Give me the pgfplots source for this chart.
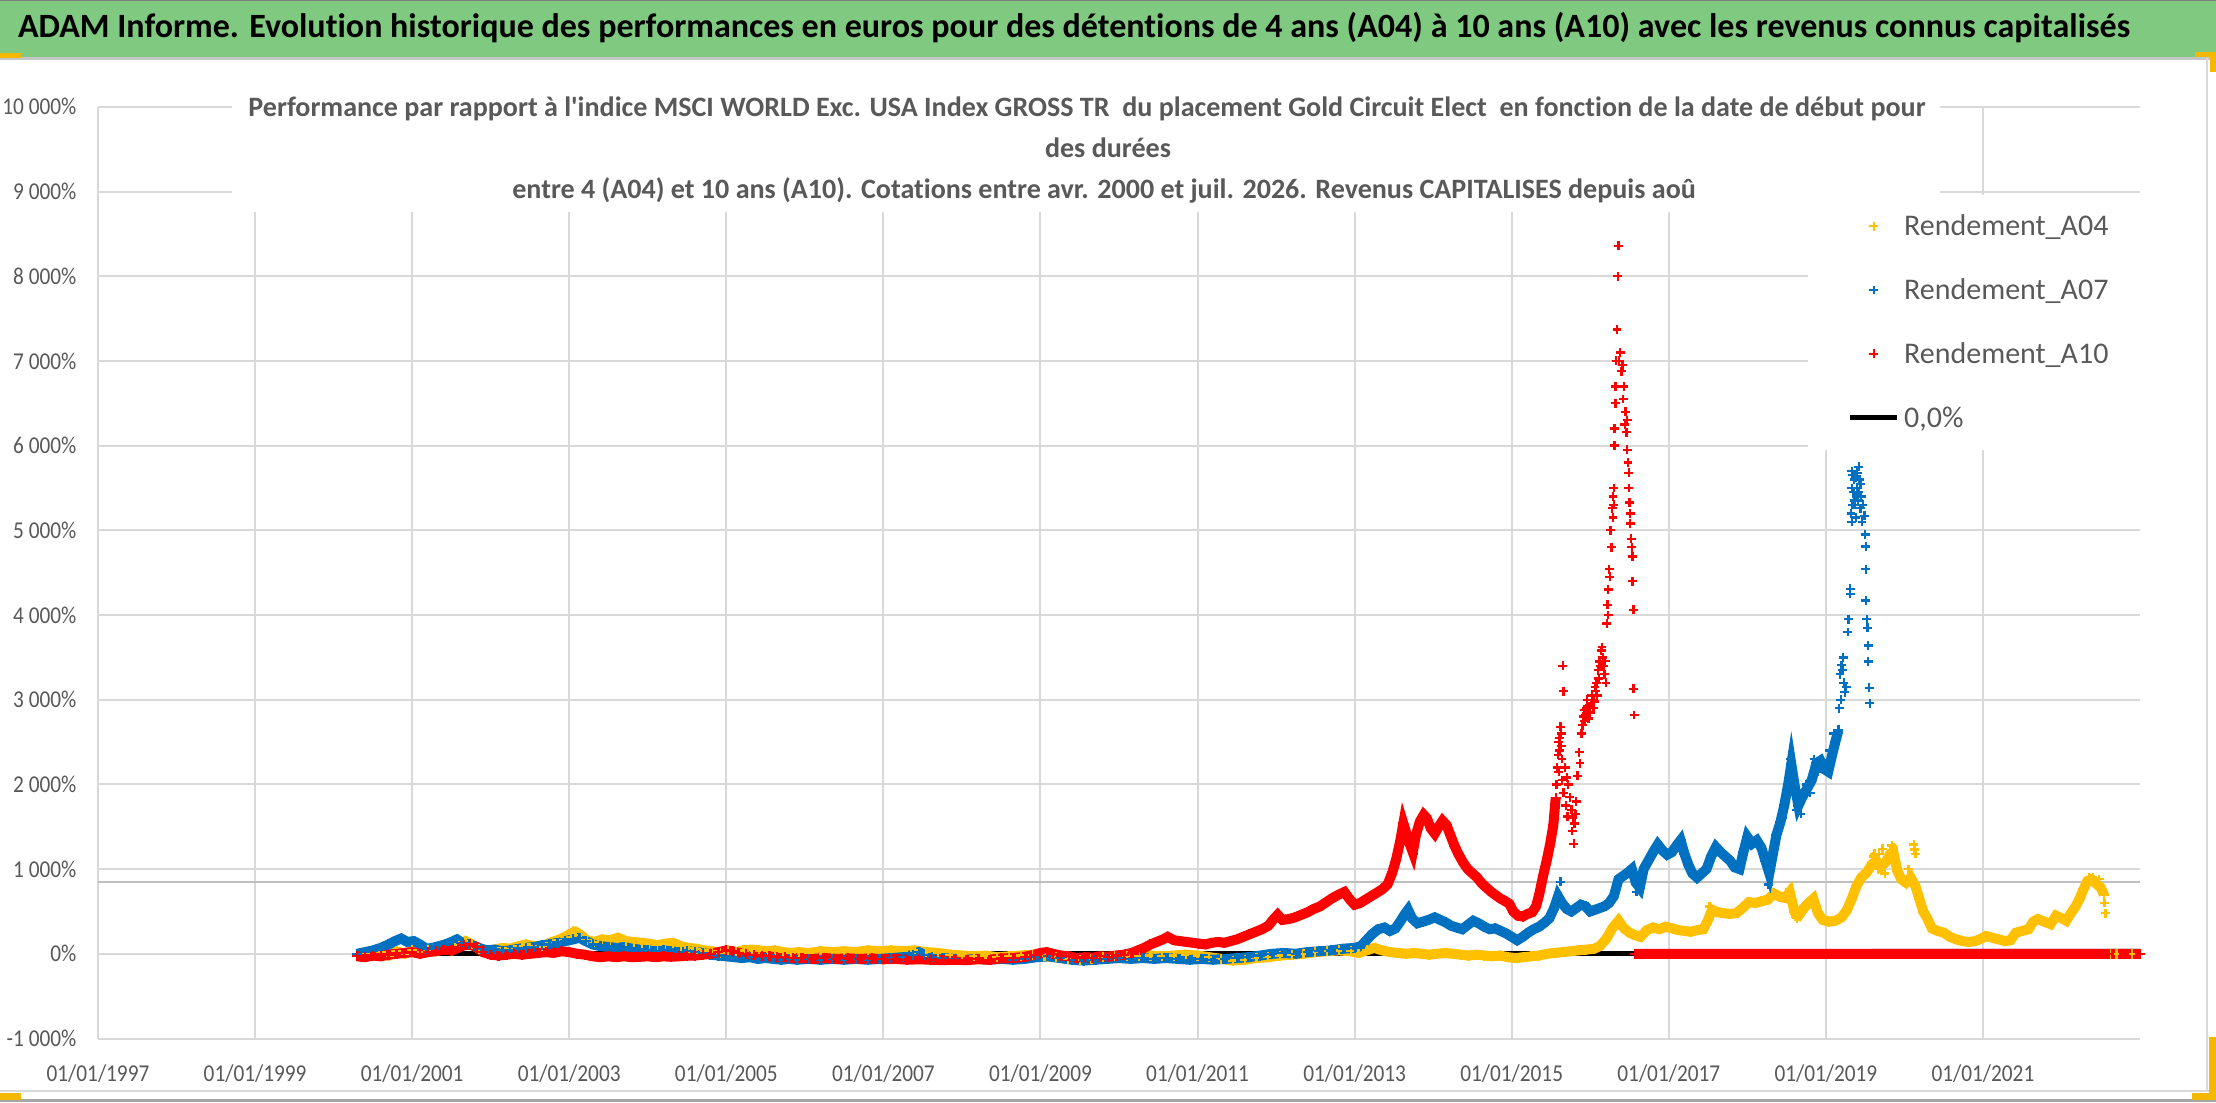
\documentclass[border=0pt]{standalone}
\usepackage{fontspec}
\setmainfont{Carlito}[Ligatures={TeX,NoCommon}]
\newfontfamily\tickfont[FakeStretch=0.88]{Carlito}
\usepackage{pgfplots}
\usepackage{pgfplotstable}
\pgfplotsset{compat=1.18}
\definecolor{txtgray}{HTML}{595959}
\definecolor{gridgray}{HTML}{D9D9D9}
\definecolor{midgray}{HTML}{BFBFBF}
\definecolor{titlegreen}{RGB}{128,201,128}
\definecolor{cYel}{HTML}{FFC000}
\definecolor{cBlu}{HTML}{0070C0}
\definecolor{cRed}{HTML}{FF0000}
\definecolor{handle}{HTML}{F5B800}

\pgfplotstableread[row sep=\\]{
x y\\
2000.30 -20\\ 2000.40 10\\ 2000.50 -10\\ 2000.60 20\\ 2000.70 -20\\ 2000.80 30\\ 2000.90 0\\ 2001.00 40\\ 2001.10 20\\ 2001.20 50\\
2001.30 30\\ 2001.40 60\\ 2001.50 40\\ 2001.60 110\\ 2001.68 150\\ 2001.76 110\\ 2001.85 60\\ 2001.95 40\\ 2002.05 50\\ 2002.15 70\\
2002.25 60\\ 2002.35 90\\ 2002.45 110\\ 2002.55 90\\ 2002.65 80\\ 2002.75 130\\ 2002.85 160\\ 2002.95 200\\ 2003.02 240\\ 2003.08 260\\
2003.15 220\\ 2003.22 160\\ 2003.32 140\\ 2003.42 170\\ 2003.52 160\\ 2003.62 190\\ 2003.72 150\\ 2003.82 140\\ 2003.92 130\\ 2004.02 120\\
2004.12 100\\ 2004.22 120\\ 2004.32 130\\ 2004.42 90\\ 2004.52 70\\ 2004.62 60\\ 2004.72 40\\ 2004.82 30\\ 2004.92 10\\ 2005.02 30\\
2005.12 20\\ 2005.22 40\\ 2005.32 50\\ 2005.42 40\\ 2005.52 30\\ 2005.62 40\\ 2005.72 20\\ 2005.82 10\\ 2005.92 20\\ 2006.05 10\\
2006.20 30\\ 2006.35 20\\ 2006.50 30\\ 2006.65 20\\ 2006.80 40\\ 2006.95 30\\ 2007.10 40\\ 2007.25 30\\ 2007.40 40\\ 2007.55 20\\
2007.70 10\\ 2007.85 -10\\ 2008.00 -20\\ 2008.15 -30\\ 2008.30 -20\\ 2008.45 -40\\ 2008.60 -30\\ 2008.75 -20\\ 2008.90 -10\\ 2009.05 -30\\
2009.20 -40\\ 2009.35 -60\\ 2009.50 -70\\ 2009.65 -60\\ 2009.80 -40\\ 2009.95 -30\\ 2010.10 -20\\ 2010.25 -30\\ 2010.40 -20\\ 2010.55 -30\\
2010.70 -20\\ 2010.85 -10\\ 2011.00 -20\\ 2011.15 -40\\ 2011.30 -60\\ 2011.45 -80\\ 2011.60 -70\\ 2011.75 -50\\ 2011.90 -40\\ 2012.05 -20\\
2012.20 -10\\ 2012.35 0\\ 2012.50 20\\ 2012.65 30\\ 2012.80 40\\ 2012.95 30\\ 2013.05 10\\ 2013.15 40\\ 2013.25 70\\ 2013.35 40\\
2013.45 20\\ 2013.55 10\\ 2013.65 0\\ 2013.75 10\\ 2013.85 0\\ 2013.95 -10\\ 2014.05 0\\ 2014.15 10\\ 2014.25 0\\ 2014.35 -10\\
2014.45 -20\\ 2014.55 -10\\ 2014.65 -20\\ 2014.75 -30\\ 2014.85 -20\\ 2014.95 -40\\ 2015.05 -50\\ 2015.15 -40\\ 2015.25 -30\\ 2015.35 -20\\
2015.45 0\\ 2015.55 10\\ 2015.65 20\\ 2015.75 30\\ 2015.85 40\\ 2015.95 50\\ 2016.05 60\\ 2016.12 90\\ 2016.20 170\\ 2016.28 300\\
2016.36 390\\ 2016.43 300\\ 2016.50 250\\ 2016.57 220\\ 2016.64 200\\ 2016.72 280\\ 2016.80 310\\ 2016.88 290\\ 2016.96 320\\ 2017.04 300\\
2017.12 280\\ 2017.20 270\\ 2017.28 260\\ 2017.36 280\\ 2017.44 290\\ 2017.50 400\\ 2017.55 520\\ 2017.62 490\\ 2017.70 480\\ 2017.78 470\\
2017.86 480\\ 2017.94 540\\ 2018.02 610\\ 2018.10 600\\ 2018.18 620\\ 2018.26 640\\ 2018.34 710\\ 2018.42 670\\ 2018.48 660\\ 2018.54 730\\
2018.60 500\\ 2018.66 460\\ 2018.72 540\\ 2018.78 600\\ 2018.84 650\\ 2018.90 480\\ 2018.96 400\\ 2019.04 380\\ 2019.12 390\\ 2019.20 430\\
2019.27 520\\ 2019.33 650\\ 2019.39 800\\ 2019.45 900\\ 2019.52 960\\ 2019.58 1050\\ 2019.64 1100\\ 2019.70 1030\\ 2019.76 1080\\ 2019.82 1180\\
2019.86 1200\\ 2019.91 980\\ 2019.96 880\\ 2020.02 840\\ 2020.08 900\\ 2020.14 800\\ 2020.19 650\\ 2020.24 500\\ 2020.29 420\\ 2020.35 300\\
2020.42 270\\ 2020.50 250\\ 2020.58 200\\ 2020.66 170\\ 2020.74 150\\ 2020.82 140\\ 2020.90 150\\ 2020.98 180\\ 2021.04 210\\ 2021.12 190\\
2021.20 170\\ 2021.28 150\\ 2021.35 160\\ 2021.42 250\\ 2021.50 270\\ 2021.58 290\\ 2021.64 380\\ 2021.70 410\\ 2021.78 380\\ 2021.86 350\\
2021.93 450\\ 2022.00 420\\ 2022.06 390\\ 2022.12 480\\ 2022.18 560\\ 2022.23 650\\ 2022.28 760\\ 2022.33 860\\ 2022.38 880\\ 2022.44 830\\
2022.50 780\\ 2022.54 700\\
nan nan\\
2022.62 0\\ 2022.70 0\\ 2022.80 0\\ 2022.90 0\\ 2023.00 0\\
}\yelband

\pgfplotstableread[row sep=\\]{
x y\\
2022.56 480\\ 2022.55 600\\ 2022.48 880\\ 2022.40 900\\ 2020.12 1290\\ 2020.13 1230\\ 2020.14 1180\\ 2019.86 1250\\ 2019.72 1240\\ 2019.68 1180\\
2019.60 1150\\ 2018.61 440\\ 2018.63 420\\ 2016.36 400\\ 2019.80 1120\\ 2020.05 1000\\ 2019.75 950\\ 2019.66 1000\\ 2018.50 720\\ 2018.58 620\\
2022.30 820\\ 2022.35 900\\ 2017.52 560\\ 2003.05 280\\ 2019.62 1180\\ 2019.84 1280\\
}\yelscat

\pgfplotstableread[row sep=\\]{
x y\\
2000.30 0\\ 2000.40 20\\ 2000.50 40\\ 2000.60 70\\ 2000.70 110\\ 2000.78 150\\ 2000.86 180\\ 2000.94 140\\ 2001.02 150\\ 2001.10 110\\
2001.18 60\\ 2001.26 70\\ 2001.34 90\\ 2001.42 110\\ 2001.50 140\\ 2001.57 170\\ 2001.64 130\\ 2001.72 110\\ 2001.80 90\\ 2001.88 60\\
2001.96 40\\ 2002.05 50\\ 2002.15 30\\ 2002.25 40\\ 2002.35 60\\ 2002.45 70\\ 2002.55 80\\ 2002.65 100\\ 2002.75 110\\ 2002.85 130\\
2002.95 150\\ 2003.05 170\\ 2003.13 190\\ 2003.21 150\\ 2003.30 110\\ 2003.40 90\\ 2003.50 80\\ 2003.60 70\\ 2003.70 80\\ 2003.80 60\\
2003.90 50\\ 2004.00 40\\ 2004.10 30\\ 2004.20 40\\ 2004.30 30\\ 2004.40 20\\ 2004.50 30\\ 2004.60 20\\ 2004.70 10\\ 2004.80 -10\\
2004.90 -20\\ 2005.00 -30\\ 2005.10 -40\\ 2005.20 -50\\ 2005.30 -40\\ 2005.40 -60\\ 2005.50 -50\\ 2005.60 -60\\ 2005.70 -70\\ 2005.80 -60\\
2005.90 -70\\ 2006.05 -60\\ 2006.20 -70\\ 2006.35 -60\\ 2006.50 -70\\ 2006.65 -60\\ 2006.80 -70\\ 2006.95 -60\\ 2007.10 -50\\ 2007.25 -40\\
2007.38 -10\\ 2007.45 20\\ 2007.52 -10\\ 2007.62 -40\\ 2007.75 -50\\ 2007.90 -60\\ 2008.05 -70\\ 2008.20 -60\\ 2008.35 -70\\ 2008.50 -60\\
2008.65 -70\\ 2008.80 -60\\ 2008.95 -40\\ 2009.10 -30\\ 2009.25 -50\\ 2009.40 -70\\ 2009.55 -80\\ 2009.70 -70\\ 2009.85 -60\\ 2010.00 -50\\
2010.15 -60\\ 2010.30 -50\\ 2010.45 -60\\ 2010.60 -50\\ 2010.75 -60\\ 2010.90 -70\\ 2011.05 -60\\ 2011.20 -70\\ 2011.35 -60\\ 2011.50 -50\\
2011.65 -40\\ 2011.80 -20\\ 2011.95 0\\ 2012.10 10\\ 2012.25 0\\ 2012.40 20\\ 2012.55 30\\ 2012.70 40\\ 2012.85 60\\ 2013.00 70\\
2013.08 90\\ 2013.15 160\\ 2013.22 230\\ 2013.30 290\\ 2013.38 310\\ 2013.45 270\\ 2013.52 300\\ 2013.58 380\\ 2013.64 470\\ 2013.68 520\\
2013.73 420\\ 2013.80 360\\ 2013.87 380\\ 2013.94 400\\ 2014.02 430\\ 2014.09 400\\ 2014.16 370\\ 2014.23 330\\ 2014.30 310\\ 2014.37 290\\
2014.44 340\\ 2014.51 390\\ 2014.58 360\\ 2014.65 320\\ 2014.72 290\\ 2014.79 300\\ 2014.86 270\\ 2014.93 240\\ 2015.00 200\\ 2015.07 160\\
2015.14 200\\ 2015.21 250\\ 2015.28 290\\ 2015.35 320\\ 2015.42 370\\ 2015.48 420\\ 2015.54 540\\ 2015.59 680\\ 2015.64 600\\ 2015.70 530\\
2015.76 500\\ 2015.82 540\\ 2015.88 580\\ 2015.94 560\\ 2016.00 500\\ 2016.06 520\\ 2016.12 540\\ 2016.18 560\\ 2016.24 600\\ 2016.30 680\\
2016.36 880\\ 2016.42 920\\ 2016.48 960\\ 2016.53 1000\\ 2016.58 840\\ 2016.63 780\\ 2016.68 1000\\ 2016.74 1100\\ 2016.80 1200\\ 2016.86 1290\\
2016.92 1220\\ 2016.98 1170\\ 2017.04 1200\\ 2017.10 1280\\ 2017.15 1340\\ 2017.20 1180\\ 2017.25 1050\\ 2017.30 950\\ 2017.36 900\\ 2017.42 950\\
2017.48 1000\\ 2017.54 1150\\ 2017.60 1260\\ 2017.66 1200\\ 2017.72 1150\\ 2017.78 1100\\ 2017.84 1020\\ 2017.90 1000\\ 2017.95 1200\\ 2018.00 1380\\
2018.06 1300\\ 2018.12 1340\\ 2018.18 1250\\ 2018.23 1100\\ 2018.28 950\\ 2018.32 1150\\ 2018.37 1400\\ 2018.42 1550\\ 2018.47 1750\\ 2018.52 2000\\
2018.56 2240\\ 2018.60 2000\\ 2018.65 1750\\ 2018.70 1850\\ 2018.76 1950\\ 2018.82 2050\\ 2018.88 2250\\ 2018.93 2280\\ 2018.98 2180\\ 2019.03 2150\\
2019.08 2350\\ 2019.12 2500\\ 2019.16 2640\\
nan nan\\
2019.60 0\\ 2019.80 0\\ 2020.00 0\\ 2020.20 0\\ 2020.40 0\\ 2020.60 0\\ 2020.80 0\\ 2021.00 0\\ 2021.20 0\\ 2021.40 0\\
2021.60 0\\ 2021.80 0\\ 2022.00 0\\ 2022.20 0\\ 2022.40 0\\ 2022.60 0\\ 2022.80 0\\ 2023.00 0\\
}\bluband

\pgfplotstableread[row sep=\\]{
x y\\
2019.18 3300\\ 2019.20 3410\\ 2019.22 3500\\ 2019.24 3090\\ 2019.26 3150\\ 2019.28 3800\\ 2019.29 3950\\ 2019.31 4310\\ 2019.31 4250\\ 2019.32 5200\\
2019.33 5500\\ 2019.33 5700\\ 2019.34 5300\\ 2019.35 5450\\ 2019.36 5600\\ 2019.38 5620\\ 2019.39 5400\\ 2019.40 5500\\ 2019.41 5350\\ 2019.42 5750\\
2019.43 5600\\ 2019.44 5260\\ 2019.45 5400\\ 2019.46 5100\\ 2019.47 5300\\ 2019.49 5170\\ 2019.50 4950\\ 2019.51 4810\\ 2019.51 4540\\ 2019.51 4170\\
2019.52 3950\\ 2019.53 3850\\ 2019.54 3640\\ 2019.54 3450\\ 2019.55 3140\\ 2019.56 2960\\ 2019.17 2900\\ 2019.19 3000\\ 2018.27 820\\ 2016.59 730\\
2019.21 3350\\ 2019.23 3200\\ 2019.33 5100\\ 2019.34 5650\\ 2019.37 5300\\ 2019.40 5680\\ 2019.42 5450\\ 2019.44 5550\\ 2019.36 5350\\ 2019.38 5150\\
2018.45 1600\\ 2018.50 1900\\ 2018.55 2300\\ 2018.58 2100\\ 2018.63 1850\\ 2018.68 1650\\ 2018.75 2000\\ 2018.85 2300\\ 2018.90 2150\\ 2019.00 2250\\
2019.05 2400\\ 2018.62 1700\\ 2018.80 1900\\ 2019.10 2600\\ 2015.62 850\\ 2017.18 1250\\
}\bluscat

\pgfplotstableread[row sep=\\]{
x y\\
2000.30 -30\\ 2000.40 -40\\ 2000.50 -20\\ 2000.60 -30\\ 2000.70 -10\\ 2000.80 0\\ 2000.90 10\\ 2001.00 20\\ 2001.10 0\\ 2001.20 20\\
2001.30 30\\ 2001.40 50\\ 2001.50 40\\ 2001.58 70\\ 2001.66 100\\ 2001.74 110\\ 2001.82 80\\ 2001.90 20\\ 2002.00 -10\\ 2002.10 -20\\
2002.20 -10\\ 2002.30 0\\ 2002.40 -10\\ 2002.50 0\\ 2002.60 10\\ 2002.70 20\\ 2002.80 10\\ 2002.90 30\\ 2003.00 20\\ 2003.10 0\\
2003.20 -10\\ 2003.30 -30\\ 2003.40 -40\\ 2003.50 -30\\ 2003.60 -40\\ 2003.70 -30\\ 2003.80 -40\\ 2003.90 -35\\ 2004.00 -30\\ 2004.10 -40\\
2004.20 -30\\ 2004.30 -35\\ 2004.40 -30\\ 2004.50 -20\\ 2004.60 -20\\ 2004.70 -10\\ 2004.80 0\\ 2004.90 20\\ 2005.00 40\\ 2005.08 30\\
2005.16 10\\ 2005.25 0\\ 2005.35 -10\\ 2005.45 -20\\ 2005.55 -30\\ 2005.65 -40\\ 2005.75 -40\\ 2005.85 -50\\ 2005.95 -50\\ 2006.10 -60\\
2006.25 -50\\ 2006.40 -60\\ 2006.55 -55\\ 2006.70 -60\\ 2006.85 -55\\ 2007.00 -65\\ 2007.15 -60\\ 2007.30 -70\\ 2007.45 -65\\ 2007.60 -70\\
2007.75 -75\\ 2007.90 -70\\ 2008.05 -75\\ 2008.20 -65\\ 2008.35 -70\\ 2008.50 -55\\ 2008.65 -50\\ 2008.80 -35\\ 2008.92 -10\\ 2009.00 10\\
2009.08 20\\ 2009.16 0\\ 2009.26 -20\\ 2009.36 -30\\ 2009.46 -50\\ 2009.56 -40\\ 2009.66 -45\\ 2009.76 -30\\ 2009.86 -35\\ 2009.96 -20\\
2010.06 -10\\ 2010.16 10\\ 2010.24 40\\ 2010.32 70\\ 2010.40 110\\ 2010.48 140\\ 2010.56 170\\ 2010.62 200\\ 2010.70 160\\ 2010.78 150\\
2010.86 140\\ 2010.94 130\\ 2011.02 120\\ 2011.10 110\\ 2011.18 130\\ 2011.26 140\\ 2011.34 130\\ 2011.42 150\\ 2011.50 170\\ 2011.58 200\\
2011.66 230\\ 2011.74 260\\ 2011.82 290\\ 2011.90 330\\ 2011.96 400\\ 2012.02 460\\ 2012.08 400\\ 2012.16 410\\ 2012.24 430\\ 2012.32 460\\
2012.40 490\\ 2012.48 530\\ 2012.56 560\\ 2012.64 610\\ 2012.72 660\\ 2012.80 700\\ 2012.87 730\\ 2012.94 640\\ 2013.00 580\\ 2013.07 600\\
2013.14 640\\ 2013.21 680\\ 2013.28 720\\ 2013.35 760\\ 2013.42 820\\ 2013.48 960\\ 2013.53 1120\\ 2013.58 1330\\ 2013.62 1540\\ 2013.66 1420\\
2013.70 1300\\ 2013.74 1200\\ 2013.78 1400\\ 2013.83 1560\\ 2013.88 1640\\ 2013.92 1600\\ 2013.97 1480\\ 2014.02 1420\\ 2014.07 1500\\ 2014.12 1570\\
2014.17 1520\\ 2014.22 1400\\ 2014.27 1280\\ 2014.32 1180\\ 2014.38 1080\\ 2014.44 1000\\ 2014.50 950\\ 2014.56 900\\ 2014.62 830\\ 2014.68 780\\
2014.74 730\\ 2014.80 690\\ 2014.86 650\\ 2014.92 620\\ 2014.97 590\\ 2015.02 500\\ 2015.08 450\\ 2015.14 440\\ 2015.20 470\\ 2015.26 490\\
2015.31 560\\ 2015.35 700\\ 2015.40 920\\ 2015.45 1120\\ 2015.49 1300\\ 2015.53 1520\\ 2015.56 1840\\
nan nan\\
2016.57 0\\ 2016.80 0\\ 2017.00 0\\ 2017.20 0\\ 2017.40 0\\ 2017.60 0\\ 2017.80 0\\ 2018.00 0\\ 2018.20 0\\ 2018.40 0\\
2018.60 0\\ 2018.80 0\\ 2019.00 0\\ 2019.20 0\\ 2019.40 0\\ 2019.60 0\\ 2019.80 0\\ 2020.00 0\\ 2020.20 0\\ 2020.40 0\\
2020.60 0\\ 2020.80 0\\ 2021.00 0\\ 2021.20 0\\ 2021.40 0\\ 2021.60 0\\ 2021.80 0\\ 2022.00 0\\ 2022.20 0\\ 2022.40 0\\
2022.60 0\\ 2022.80 0\\ 2023.00 0\\
}\redband

\pgfplotstableread[row sep=\\]{
x y\\
2015.57 2000\\ 2015.58 2200\\ 2015.59 2350\\ 2015.60 2500\\ 2015.61 2550\\ 2015.62 2680\\ 2015.63 2450\\ 2015.64 2300\\ 2015.65 3400\\ 2015.66 3100\\
2015.68 2200\\ 2015.70 2080\\ 2015.72 2000\\ 2015.74 1850\\ 2015.76 1700\\ 2015.78 1600\\ 2015.80 1540\\ 2015.82 1800\\ 2015.84 2100\\ 2015.86 2380\\
2015.87 2250\\ 2015.89 2600\\ 2015.91 2800\\ 2015.93 2750\\ 2015.95 2900\\ 2015.97 2850\\ 2015.99 2920\\ 2016.01 2950\\ 2016.03 3000\\ 2016.05 2980\\
2016.07 3100\\ 2016.09 3050\\ 2016.11 3250\\ 2016.13 3400\\ 2016.14 3580\\ 2016.16 3500\\ 2016.18 3300\\ 2016.19 3460\\ 2016.21 3900\\ 2016.22 4120\\
2016.23 4300\\ 2016.24 4540\\ 2016.26 5000\\ 2016.28 5260\\ 2016.29 5400\\ 2016.30 5500\\ 2016.31 6200\\ 2016.32 6700\\ 2016.33 7000\\ 2016.34 7370\\
2016.35 8000\\ 2016.36 8360\\ 2016.38 7100\\ 2016.40 6880\\ 2016.41 6950\\ 2016.43 6700\\ 2016.45 6400\\ 2016.46 6160\\ 2016.47 6300\\ 2016.48 5800\\
2016.49 5680\\ 2016.50 5330\\ 2016.51 5080\\ 2016.52 4900\\ 2016.54 4690\\ 2016.55 4060\\ 2016.55 3130\\ 2016.56 2820\\ 2013.75 1180\\
2015.60 2150\\ 2015.61 2400\\ 2015.63 2600\\ 2015.64 2050\\ 2015.66 1900\\ 2015.69 1750\\ 2015.71 1620\\ 2015.77 1450\\ 2015.79 1300\\ 2015.81 1650\\
2015.90 2700\\ 2015.92 2880\\ 2015.94 2820\\ 2015.96 3000\\ 2015.98 2780\\ 2016.00 2850\\ 2016.02 3050\\ 2016.04 2900\\ 2016.06 3150\\ 2016.08 3200\\
2016.10 3350\\ 2016.12 3450\\ 2016.15 3620\\ 2016.17 3400\\ 2016.20 3200\\ 2016.23 4000\\ 2016.25 4450\\ 2016.27 4800\\ 2016.29 5150\\ 2016.30 5300\\
2016.31 6000\\ 2016.32 6500\\ 2016.37 7000\\ 2016.42 6550\\ 2016.44 6250\\ 2016.47 5950\\ 2016.49 5500\\ 2016.51 5200\\ 2016.53 4800\\ 2016.54 4400\\
}\redscat

\begin{document}
\begin{tikzpicture}
\path[use as bounding box] (0,0) rectangle (797.76pt,396.72pt);
\fill[white] (0,0) rectangle (797.76pt,396.72pt);
\begin{scope}[x=0.36pt, y=-0.36pt, shift={(0pt,396.72pt)}]
  \fill[titlegreen] (0,0) rectangle (2216,57);
  \draw[gray, line width=0.4pt] (0,0.6) -- (2216,0.6);
  \draw[gray!45, line width=0.8pt] (0,58.5) -- (2216,58.5);
  \draw[gridgray, line width=0.8pt] (2207,58) -- (2207,1091);
  \draw[gridgray, line width=0.8pt] (0,1091) -- (2216,1091);
  \draw[gray!70, line width=0.8pt] (0,1100.5) -- (2216,1100.5);
  \fill[handle] (0,53) rectangle (21,58);
  \fill[handle] (2195,52) rectangle (2216,57);
  \fill[handle] (2210,52) rectangle (2216,72);
  \fill[handle] (0,1093) rectangle (21,1100);
  \fill[handle] (2209,1037) rectangle (2216,1100);
  \fill[handle] (2192,1093) rectangle (2216,1100);
\end{scope}

\begin{axis}[
  at={(35.28pt,22.86pt)}, anchor=south west,
  width=735.12pt, height=335.4pt, scale only axis,
  xmin=1997, xmax=2023, ymin=-1000, ymax=10000,
  scaled x ticks=false, scaled y ticks=false,
  xtick={1997,1999,2001,2003,2005,2007,2009,2011,2013,2015,2017,2019,2021},
  xticklabels={01/01/1997,01/01/1999,01/01/2001,01/01/2003,01/01/2005,01/01/2007,01/01/2009,01/01/2011,01/01/2013,01/01/2015,01/01/2017,01/01/2019,01/01/2021},
  ytick={-1000,0,1000,2000,3000,4000,5000,6000,7000,8000,9000,10000},
  yticklabels={-1 000\%,0\%,1 000\%,2 000\%,3 000\%,4 000\%,5 000\%,6 000\%,7 000\%,8 000\%,9 000\%,10 000\%},
  grid=major,
  major grid style={draw=gridgray, line width=0.72pt},
  axis line style={draw=none},
  tick style={draw=none},
  xticklabel style={anchor=base, inner sep=0pt, yshift=-15.3pt, font=\tickfont\fontsize{8.7}{10}\selectfont, text=txtgray},
  yticklabel style={anchor=east, inner sep=0pt, xshift=-7.6pt, font=\tickfont\fontsize{8.7}{10}\selectfont, text=txtgray},
  unbounded coords=jump,
  clip=false,
  legend style={at={(0.8565,0.8857)}, anchor=north west, draw=none, fill=none,
    inner sep=0pt, row sep=14.2pt,
    nodes={inner sep=0pt, text height=7.8pt, text depth=1pt, text=txtgray},
    font=\fontsize{10.8}{12}\selectfont,
    /tikz/every odd column/.append style={column sep=1.5pt}},
  legend cell align=left,
]
\addplot[midgray, line width=0.9pt, forget plot] coordinates {(1997,850) (2023,850)};
\addplot[black, line width=1.8pt, forget plot] coordinates {(2000.3,0) (2023,0)};

\addplot[cYel, line width=3.6pt, mark=+, mark size=1.8pt, mark options={line width=0.8pt, solid}, forget plot] table {\yelband};
\addplot[cYel, only marks, mark=+, mark size=1.6pt, mark options={line width=0.85pt}] table {\yelscat};
\addlegendentry{Rendement\_A04}

\addplot[cBlu, line width=3.6pt, mark=+, mark size=1.8pt, mark options={line width=0.8pt, solid}, forget plot] table {\bluband};
\addplot[cBlu, only marks, mark=+, mark size=1.6pt, mark options={line width=0.85pt}] table {\bluscat};
\addlegendentry{Rendement\_A07}

\addplot[cRed, line width=3.6pt, mark=+, mark size=1.8pt, mark options={line width=0.8pt, solid}, forget plot] table {\redband};
\addplot[cRed, only marks, mark=+, mark size=1.6pt, mark options={line width=0.85pt}] table {\redscat};
\addlegendentry{Rendement\_A10}

\addlegendimage{black, line width=1.8pt}
\addlegendentry{0,0\%}

\fill[white] (rel axis cs:0.8374,0.6316) rectangle (rel axis cs:1.0,0.9053);
\end{axis}

\begin{scope}[x=0.36pt, y=-0.36pt, shift={(0pt,396.72pt)}]
  \fill[white] (232,90) rectangle (1940,212);
  \node[anchor=base west, inner sep=0pt, font=\bfseries\fontsize{12.25}{14}\selectfont] at (17.5,37.7)
    {ADAM Informe. Evolution historique des performances en euros pour des détentions de 4 ans (A04) à 10 ans (A10) avec les revenus connus capitalisés};
  \node[anchor=base, inner sep=0pt, text=txtgray, font=\bfseries\fontsize{10.1}{12}\selectfont] at (1087,117)
    {Performance par rapport à l\textquotesingle indice MSCI WORLD Exc. USA Index GROSS TR\ \ du placement Gold Circuit Elect\ \ en fonction de la date de début pour};
  \node[anchor=base, inner sep=0pt, text=txtgray, font=\bfseries\fontsize{10.1}{12}\selectfont] at (1108,158)
    {des durées};
  \node[anchor=base, inner sep=0pt, text=txtgray, font=\bfseries\fontsize{10.1}{12}\selectfont] at (1104,199)
    {entre 4 (A04) et 10 ans (A10). Cotations entre avr. 2000 et juil. 2026. Revenus CAPITALISES depuis aoû};
\end{scope}
\end{tikzpicture}
\end{document}
